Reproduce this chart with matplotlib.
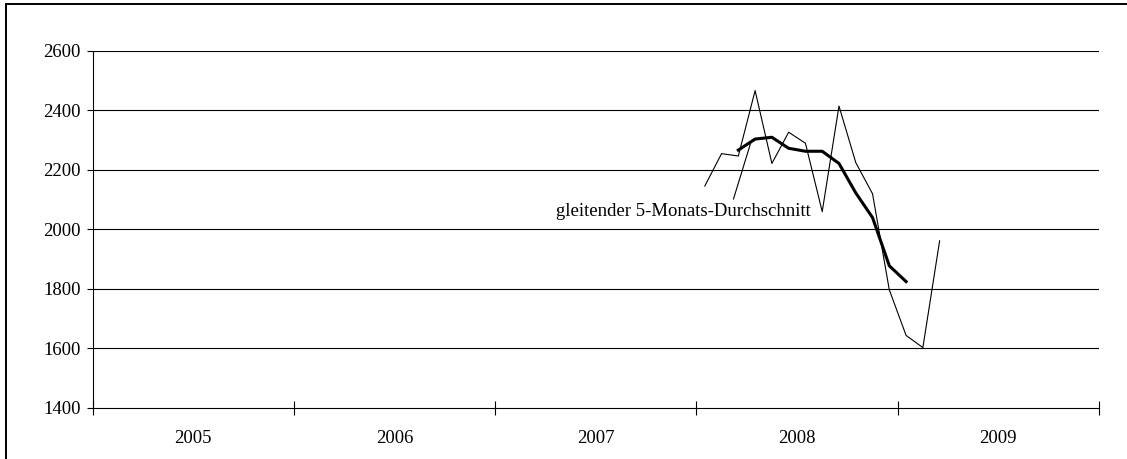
import matplotlib
matplotlib.use("Agg")
import matplotlib.pyplot as plt
from matplotlib.patches import Rectangle

plt.rcParams['font.family'] = ['Liberation Serif', 'DejaVu Serif']

years = ["2005", "2006", "2007", "2008", "2009"]
year_starts = [2005, 2006, 2007, 2008, 2009, 2010]

# monthly values: Jan 2008 .. Mar 2009
monthly_labels = ["2008-01", "2008-02", "2008-03", "2008-04", "2008-05", "2008-06",
                  "2008-07", "2008-08", "2008-09", "2008-10", "2008-11", "2008-12",
                  "2009-01", "2009-02", "2009-03"]
monthly_values = [2146, 2255, 2247, 2467, 2222, 2327, 2290, 2060, 2415, 2225,
                  2120, 1797, 1644, 1603, 1962]

# 5-month moving average: Mar 2008 .. Jan 2009
ma_labels = ["2008-03", "2008-04", "2008-05", "2008-06", "2008-07", "2008-08",
             "2008-09", "2008-10", "2008-11", "2008-12", "2009-01"]
ma_values = [2267, 2304, 2310, 2273, 2263, 2263, 2222, 2123, 2040, 1878, 1825]

yticks = [1400, 1600, 1800, 2000, 2200, 2400, 2600]
annotation_text = "gleitender 5-Monats-Durchschnitt"

FS = 13.5


def to_x(lbl):
    y, m = lbl.split("-")
    return int(y) + (int(m) - 0.5) / 12.0


fig = plt.figure(figsize=(11.27, 4.59), dpi=100)
fig.patch.set_facecolor("white")
ax = fig.add_axes([92.5 / 1127, 1 - 408 / 459, (1099 - 92.5) / 1127, (408 - 51) / 459])

ax.set_xlim(2005, 2010)
ax.set_ylim(1400, 2600)

for v in yticks[1:]:
    ax.axhline(v, color="black", lw=0.8, zorder=1)

xm = [to_x(l) for l in monthly_labels]
ax.plot(xm, monthly_values, color="black", lw=0.8, zorder=3)
xa = [to_x(l) for l in ma_labels]
ax.plot(xa, ma_values, color="black", lw=2.2, zorder=4, solid_joinstyle="round")

# annotation text and leader line
ax.text(2007.935, 2059, annotation_text, ha="center", va="center", fontsize=FS)
ax.annotate("", xy=(2008.271, 2294), xytext=(2008.184, 2102),
            arrowprops=dict(arrowstyle="-", color="black", lw=0.8, shrinkA=0, shrinkB=0))

for s in ["top", "right"]:
    ax.spines[s].set_visible(False)
for s in ["left", "bottom"]:
    ax.spines[s].set_linewidth(0.8)

ax.set_yticks(yticks)
ax.set_yticklabels([str(v) for v in yticks], fontsize=FS)
ax.tick_params(axis="y", direction="out", length=4.5, width=0.8, pad=4)

ax.set_xticks(year_starts)
ax.set_xticklabels([""] * len(year_starts))
ax.tick_params(axis="x", which="major", direction="inout", length=10, width=0.8)
ax.set_xticks([y + 0.5 for y in year_starts[:-1]], minor=True)
ax.set_xticklabels(years, minor=True, fontsize=FS)
ax.tick_params(axis="x", which="minor", length=0, pad=16)

fig.add_artist(Rectangle((6 / 1127, -0.05), 1.05, 1 - 4 / 459 + 0.05,
                         transform=fig.transFigure, fill=False, edgecolor="black",
                         lw=1.4))

fig.savefig("out.png", dpi=100)
